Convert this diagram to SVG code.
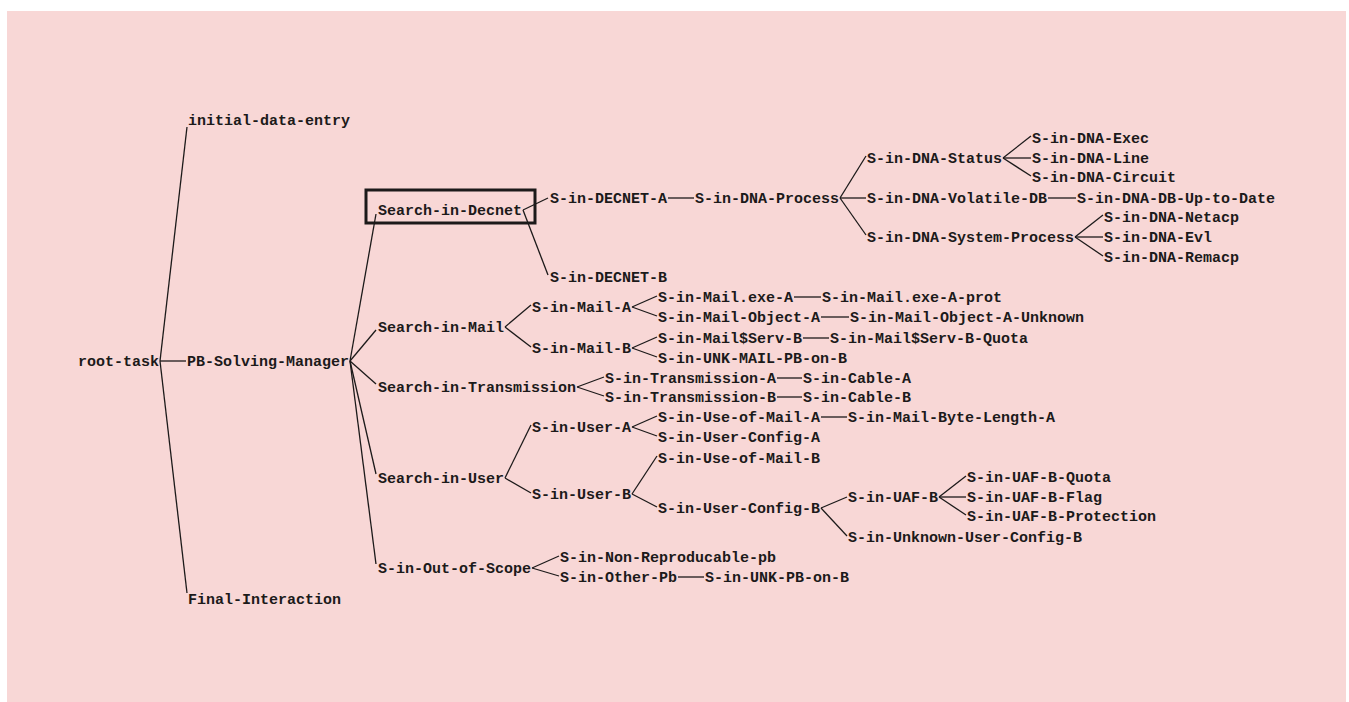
<svg xmlns="http://www.w3.org/2000/svg" width="1349" height="702" viewBox="0 0 1349 702">
<style>
.t{font-family:"Liberation Mono","DejaVu Sans Mono",monospace;font-size:15px;font-weight:bold;fill:#1c1a1a}
.c line{stroke:#1c1a1a;stroke-width:1.3;fill:none}
.box{fill:none;stroke:#1c1a1a;stroke-width:3}
</style>
<rect x="0" y="0" width="1349" height="702" fill="#ffffff"/>
<rect x="7" y="11" width="1339" height="691" fill="#f8d7d6"/>
<g id="connectors" class="c">
<line x1="160" y1="361" x2="187" y2="127"/>
<line x1="160" y1="361" x2="186" y2="361"/>
<line x1="160" y1="361" x2="187" y2="593"/>
<line x1="350" y1="361" x2="376" y2="214"/>
<line x1="350" y1="361" x2="376" y2="330"/>
<line x1="350" y1="361" x2="376" y2="384"/>
<line x1="350" y1="361" x2="376" y2="474"/>
<line x1="350" y1="361" x2="376" y2="564"/>
<line x1="523" y1="210" x2="548" y2="198"/>
<line x1="523" y1="210" x2="548" y2="275"/>
<line x1="668" y1="198" x2="694" y2="198"/>
<line x1="840" y1="198" x2="866" y2="156"/>
<line x1="840" y1="198" x2="866" y2="198"/>
<line x1="840" y1="198" x2="866" y2="235"/>
<line x1="1003" y1="158" x2="1031" y2="136"/>
<line x1="1003" y1="158" x2="1031" y2="158"/>
<line x1="1003" y1="158" x2="1031" y2="176"/>
<line x1="1048" y1="198" x2="1076" y2="198"/>
<line x1="1075" y1="237" x2="1103" y2="215"/>
<line x1="1075" y1="237" x2="1103" y2="237"/>
<line x1="1075" y1="237" x2="1103" y2="256"/>
<line x1="505" y1="327" x2="531" y2="305"/>
<line x1="505" y1="327" x2="531" y2="347"/>
<line x1="632" y1="307" x2="657" y2="296"/>
<line x1="632" y1="307" x2="657" y2="316"/>
<line x1="632" y1="348" x2="657" y2="337"/>
<line x1="632" y1="348" x2="657" y2="357"/>
<line x1="794" y1="297" x2="821" y2="297"/>
<line x1="821" y1="317" x2="849" y2="317"/>
<line x1="803" y1="338" x2="829" y2="338"/>
<line x1="577" y1="387" x2="604" y2="377"/>
<line x1="577" y1="387" x2="604" y2="396"/>
<line x1="777" y1="378" x2="802" y2="378"/>
<line x1="777" y1="397" x2="802" y2="397"/>
<line x1="505" y1="478" x2="531" y2="425"/>
<line x1="505" y1="478" x2="531" y2="493"/>
<line x1="632" y1="427" x2="657" y2="416"/>
<line x1="632" y1="427" x2="657" y2="436"/>
<line x1="821" y1="417" x2="847" y2="417"/>
<line x1="632" y1="494" x2="657" y2="456"/>
<line x1="632" y1="494" x2="657" y2="507"/>
<line x1="821" y1="508" x2="847" y2="497"/>
<line x1="821" y1="508" x2="847" y2="536"/>
<line x1="939" y1="497" x2="966" y2="476"/>
<line x1="939" y1="497" x2="966" y2="497"/>
<line x1="939" y1="497" x2="966" y2="515"/>
<line x1="532" y1="568" x2="559" y2="556"/>
<line x1="532" y1="568" x2="559" y2="576"/>
<line x1="678" y1="577" x2="704" y2="577"/>
</g>
<g id="n_root"><text class="t" x="78" y="366">root-task</text></g>
<g id="n_ide"><text class="t" x="188" y="125">initial-data-entry</text></g>
<g id="n_pbsm"><text class="t" x="187" y="366">PB-Solving-Manager</text></g>
<g id="n_fi"><text class="t" x="188" y="604">Final-Interaction</text></g>
<g id="n_sid"><rect class="box" x="366" y="190" width="169" height="33"/><text class="t" x="378" y="215">Search-in-Decnet</text></g>
<g id="n_decA"><text class="t" x="550" y="203">S-in-DECNET-A</text></g>
<g id="n_decB"><text class="t" x="550" y="282">S-in-DECNET-B</text></g>
<g id="n_dnap"><text class="t" x="695" y="203">S-in-DNA-Process</text></g>
<g id="n_dnas"><text class="t" x="867" y="163">S-in-DNA-Status</text></g>
<g id="n_dnav"><text class="t" x="867" y="203">S-in-DNA-Volatile-DB</text></g>
<g id="n_dnasp"><text class="t" x="867" y="242">S-in-DNA-System-Process</text></g>
<g id="n_exec"><text class="t" x="1032" y="143">S-in-DNA-Exec</text></g>
<g id="n_line"><text class="t" x="1032" y="163">S-in-DNA-Line</text></g>
<g id="n_circ"><text class="t" x="1032" y="182">S-in-DNA-Circuit</text></g>
<g id="n_uptd"><text class="t" x="1077" y="203">S-in-DNA-DB-Up-to-Date</text></g>
<g id="n_netacp"><text class="t" x="1104" y="222">S-in-DNA-Netacp</text></g>
<g id="n_evl"><text class="t" x="1104" y="242">S-in-DNA-Evl</text></g>
<g id="n_remacp"><text class="t" x="1104" y="262">S-in-DNA-Remacp</text></g>
<g id="n_sim"><text class="t" x="378" y="332">Search-in-Mail</text></g>
<g id="n_mailA"><text class="t" x="532" y="312">S-in-Mail-A</text></g>
<g id="n_mailB"><text class="t" x="532" y="353">S-in-Mail-B</text></g>
<g id="n_exeA"><text class="t" x="658" y="302">S-in-Mail.exe-A</text></g>
<g id="n_objA"><text class="t" x="658" y="322">S-in-Mail-Object-A</text></g>
<g id="n_servB"><text class="t" x="658" y="343">S-in-Mail$Serv-B</text></g>
<g id="n_unkmail"><text class="t" x="658" y="363">S-in-UNK-MAIL-PB-on-B</text></g>
<g id="n_exeAp"><text class="t" x="822" y="302">S-in-Mail.exe-A-prot</text></g>
<g id="n_objAu"><text class="t" x="850" y="322">S-in-Mail-Object-A-Unknown</text></g>
<g id="n_servBq"><text class="t" x="830" y="343">S-in-Mail$Serv-B-Quota</text></g>
<g id="n_sit"><text class="t" x="378" y="392">Search-in-Transmission</text></g>
<g id="n_trA"><text class="t" x="605" y="383">S-in-Transmission-A</text></g>
<g id="n_trB"><text class="t" x="605" y="402">S-in-Transmission-B</text></g>
<g id="n_cabA"><text class="t" x="803" y="383">S-in-Cable-A</text></g>
<g id="n_cabB"><text class="t" x="803" y="402">S-in-Cable-B</text></g>
<g id="n_siu"><text class="t" x="378" y="483">Search-in-User</text></g>
<g id="n_userA"><text class="t" x="532" y="432">S-in-User-A</text></g>
<g id="n_userB"><text class="t" x="532" y="499">S-in-User-B</text></g>
<g id="n_uomA"><text class="t" x="658" y="422">S-in-Use-of-Mail-A</text></g>
<g id="n_ucA"><text class="t" x="658" y="442">S-in-User-Config-A</text></g>
<g id="n_mbl"><text class="t" x="848" y="422">S-in-Mail-Byte-Length-A</text></g>
<g id="n_uomB"><text class="t" x="658" y="463">S-in-Use-of-Mail-B</text></g>
<g id="n_ucB"><text class="t" x="658" y="513">S-in-User-Config-B</text></g>
<g id="n_uaf"><text class="t" x="848" y="502">S-in-UAF-B</text></g>
<g id="n_uafq"><text class="t" x="967" y="482">S-in-UAF-B-Quota</text></g>
<g id="n_uaff"><text class="t" x="967" y="502">S-in-UAF-B-Flag</text></g>
<g id="n_uafp"><text class="t" x="967" y="521">S-in-UAF-B-Protection</text></g>
<g id="n_unkucb"><text class="t" x="848" y="542">S-in-Unknown-User-Config-B</text></g>
<g id="n_oos"><text class="t" x="378" y="573">S-in-Out-of-Scope</text></g>
<g id="n_nrp"><text class="t" x="560" y="562">S-in-Non-Reproducable-pb</text></g>
<g id="n_opb"><text class="t" x="560" y="582">S-in-Other-Pb</text></g>
<g id="n_unkpb"><text class="t" x="705" y="582">S-in-UNK-PB-on-B</text></g>
</svg>
